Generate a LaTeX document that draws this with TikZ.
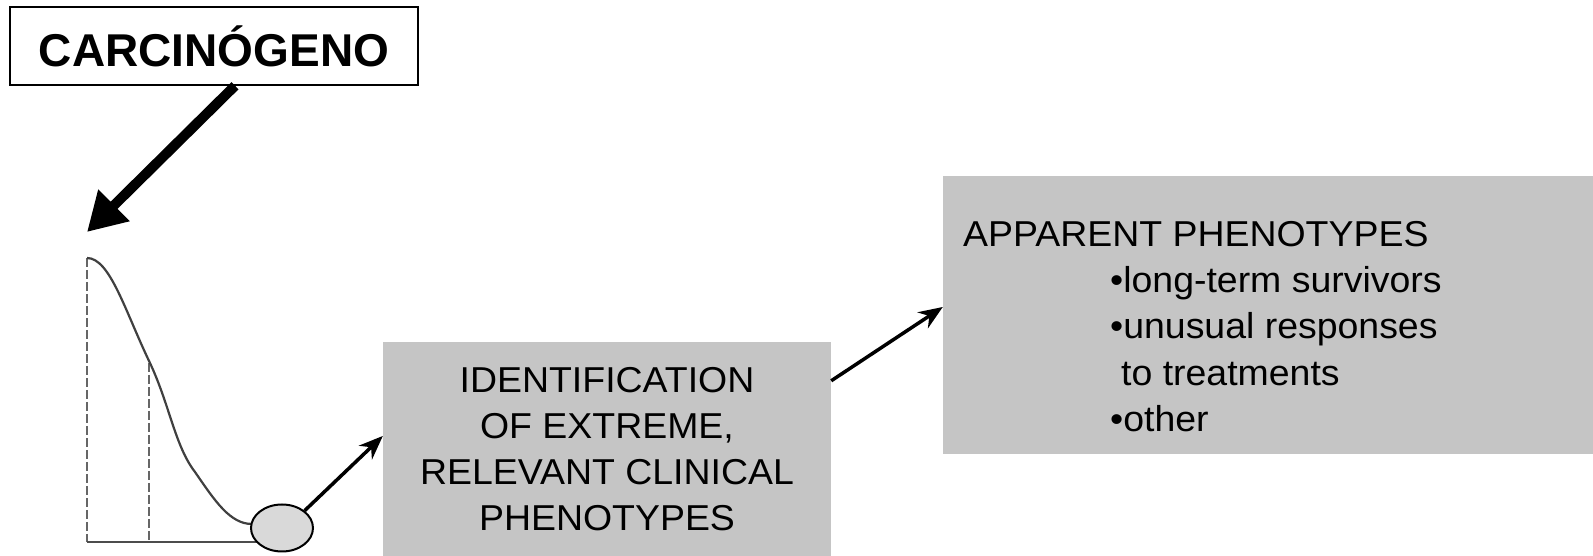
\documentclass[tikz,border=0pt]{standalone}
\usepackage{fontspec}
\setmainfont{Liberation Sans}
\newfontfamily\boxfont[FakeStretch=1.04]{Liberation Sans}
\usepackage{tikz}
\usetikzlibrary{arrows.meta,shapes.geometric}

\definecolor{boxgray}{RGB}{197,197,197}
\definecolor{dotgray}{RGB}{217,217,217}

\begin{document}
\begin{tikzpicture}[x=1pt,y=1pt,
		graybox/.style={fill=boxgray,inner sep=0pt},
		arr/.style={-{Stealth[length=24pt,width=19pt]},line width=3.5pt}]
	\useasboundingbox (0,0) rectangle (1593,556);
		% carcinogen label
		\node[draw,line width=1.5pt,minimum width=408pt,minimum height=78pt,inner sep=0pt,
			font=\fontsize{46}{50}\selectfont\bfseries] (carc) at (214,510) {CARCINÓGENO};
		\coordinate (hit) at (87,324);
		\draw[line width=10pt,-{Triangle[length=38pt,width=42pt]}] ([xshift=21pt]carc.south) -- (hit);
		% curve
		\draw[black!60,line width=1.5pt,dash pattern=on 9pt off 3pt] (87,298) -- (87,14);
		\draw[black!60,line width=1.5pt,dash pattern=on 9pt off 3pt] (149,193) -- (149,14);
		\draw[black!75,line width=2.2pt] (87,298) .. controls (110,298) and (125,245) .. (150,193)
			.. controls (170,150) and (175,110) .. (195,84)
			.. controls (215,55) and (230,32) .. (252,32);
		\draw[black!70,line width=2.5pt] (87,14) -- (262,14);
		\node[ellipse,draw,line width=2pt,fill=dotgray,minimum width=62pt,minimum height=47pt,inner sep=0pt] (tail) at (282,28) {};
		% boxes
		\node[graybox,minimum width=448pt,minimum height=214pt,align=center,
			font=\boxfont\fontsize{36}{46}\selectfont] (ident) at (607,107)
			{IDENTIFICATION\\ OF EXTREME,\\ RELEVANT CLINICAL\\ PHENOTYPES};
		\node[graybox,minimum width=650pt,minimum height=278pt] (pheno) at (1268,241) {};
		\node[anchor=west,inner sep=0pt,align=left,font=\boxfont\fontsize{36}{46.3}\selectfont] (list) at (963,229.5)
			{APPARENT PHENOTYPES\\
			\hspace*{147pt}•long-term survivors\\
			\hspace*{147pt}•unusual responses\\
			\hspace*{158pt}to treatments\\
			\hspace*{147pt}•other};
		\draw[arr] (tail.north east) -- ([yshift=13pt]ident.west);
		\draw[arr] ([yshift=-39pt]ident.north east) -- ([yshift=8pt]pheno.west);
	\end{tikzpicture}
\end{document}
